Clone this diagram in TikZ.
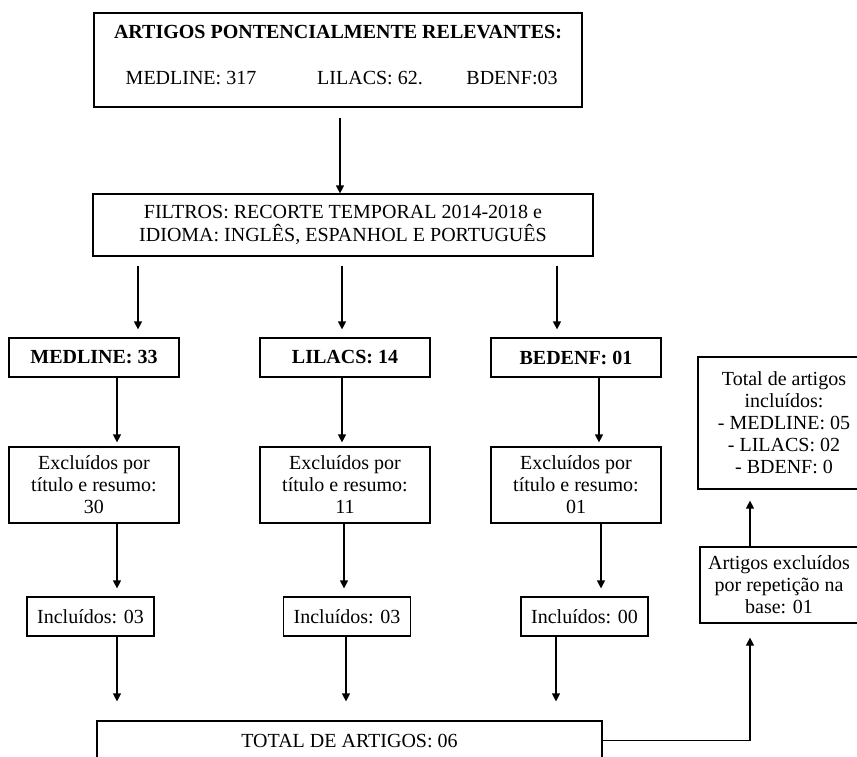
\documentclass[tikz,border=0pt]{standalone}
\usepackage{fontspec}
\setmainfont{Liberation Serif}
\usetikzlibrary{arrows.meta,positioning}

\begin{document}
\begin{tikzpicture}[x=1pt,y=-1pt,
        txt/.style={inner sep=0pt,align=center,font=\fontsize{20}{22}\selectfont},
        box/.style={txt,draw,line width=1.2pt},
        arr/.style={line width=1.2pt,-{Triangle[length=8pt,width=8pt]}}]
        \useasboundingbox (0,0) rectangle (857,756);
        \clip (0,0) rectangle (857,756);

        % topo
        \node[box,minimum width=488pt,minimum height=94pt] (artigos) at (338,60) {};
        \node[txt,font=\fontsize{20}{22}\selectfont\bfseries] (titulo) at (338,32) {ARTIGOS PONTENCIALMENTE RELEVANTES:};
        \node[txt] (medline0) at (191,78) {MEDLINE: 317};
        \node[txt] (lilacs0) at (370,78) {LILACS: 62.};
        \node[txt] (bdenf0) at (512,78) {BDENF:03};

        \node[box,minimum width=500pt,minimum height=62pt,font=\fontsize{20}{23}\selectfont] (filtros) at (343,225)
            {FILTROS: RECORTE TEMPORAL 2014-2018 e\\IDIOMA: INGLÊS, ESPANHOL E PORTUGUÊS};

        % bases
        \foreach \v/\x/\t in {
            medline1/94/MEDLINE: 33,
            lilacs1/345/LILACS: 14,
            bdenf1/576/BEDENF: 01}
        {
            \node[box,minimum width=170pt,minimum height=39pt,font=\fontsize{20}{22}\selectfont\bfseries] (\v) at (\x,357.5) {\t};
        };

        \node[box,minimum width=170pt,minimum height=76pt] (exclMed) at (94,485) {Excluídos por\\título e resumo:\\30};
        \node[box,minimum width=170pt,minimum height=76pt] (exclLil) at (345,485) {Excluídos por\\título e resumo:\\11};
        \node[box,minimum width=170pt,minimum height=76pt] (exclBde) at (576,485) {Excluídos por\\título e resumo:\\01};

        \node[box,minimum width=127pt,minimum height=39pt] (inclMed) at (90.5,616.5) {Incluídos: 03};
        \node[box,minimum width=127pt,minimum height=39pt] (inclLil) at (347,616.5) {Incluídos: 03};
        \node[box,minimum width=127pt,minimum height=39pt] (inclBde) at (584.5,616.5) {Incluídos: 00};

        \node[box,minimum width=505pt,minimum height=39pt] (total) at (349.5,740.5) {TOTAL DE ARTIGOS: 06};

        % lado direito
        \node[box,minimum width=172pt,minimum height=132pt] (inclTotal) at (784,423)
            {Total de artigos\\incluídos:\\- MEDLINE: 05\\- LILACS: 02\\- BDENF: 0};
        \node[box,minimum width=158pt,minimum height=76pt] (repet) at (779,585)
            {Artigos excluídos\\por repetição na\\base: 01};

        % setas
        \draw[arr,shorten <=10pt] (artigos.south -| 340,0) -- (filtros.north -| 340,0);
        \foreach \b/\x in {medline1/138, lilacs1/342, bdenf1/557}
            \draw[arr,shorten <=9pt,shorten >=8pt] (filtros.south -| \x,0) -- (\b.north -| \x,0);
        \foreach \a/\b/\x in {medline1/exclMed/117, lilacs1/exclLil/342, bdenf1/exclBde/599}
            \draw[arr,shorten >=4pt] (\a.south -| \x,0) -- (\b.north -| \x,0);
        \foreach \a/\b/\x in {exclMed/inclMed/117, exclLil/inclLil/344, exclBde/inclBde/601}
            \draw[arr,shorten >=8pt] (\a.south -| \x,0) -- (\b.north -| \x,0);
        \foreach \a/\x in {inclMed/117, inclLil/346, inclBde/556}
            \draw[arr,shorten >=19pt] (\a.south -| \x,0) -- (total.north -| \x,0);
        \draw[arr,shorten >=14pt] (total.east) -| (repet.south -| 750,0);
        \draw[arr,shorten >=11pt] (repet.north -| 750,0) -- (inclTotal.south -| 750,0);
\end{tikzpicture}
\end{document}
